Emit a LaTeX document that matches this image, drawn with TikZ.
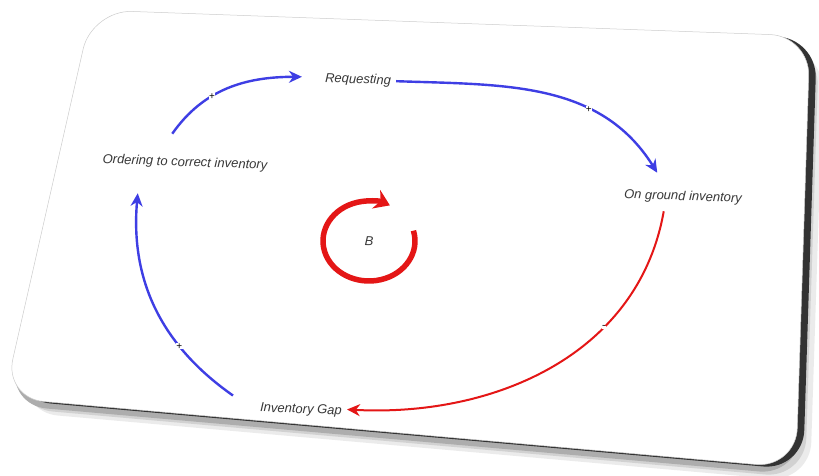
\documentclass[tikz,border=0pt]{standalone}
\usepackage{fontspec}
\setmainfont{Liberation Sans}
\usetikzlibrary{arrows.meta}

\definecolor{linkblue}{RGB}{62,62,228}
\definecolor{linkred}{RGB}{228,22,22}

\newcommand{\cardoutline}{(92,10) -- (810,36) -- (796,468) -- (4,398) -- cycle}

\tikzset{
  var/.style={font=\fontsize{13}{15}\selectfont\itshape, text=black!78, rotate=-2, inner sep=1pt},
  poslink/.style={draw=linkblue, line width=2.4pt, -{Stealth[length=13pt,width=12pt]}},
  neglink/.style={draw=linkred, line width=2pt, -{Stealth[length=13pt,width=12pt]}},
  sign/.style={font=\fontsize{10}{10}\selectfont, text=black, fill=white, inner sep=0.2pt},
}

\begin{document}
\begin{tikzpicture}[x=1pt,y=-1pt]
\useasboundingbox (0,0) rectangle (819,476);

% card with its shadow
\fill[black!8, shift={(14,14)}, rounded corners=40pt] \cardoutline;
\fill[black!18, shift={(9,10)}, rounded corners=40pt] \cardoutline;
\fill[black!32, shift={(3,7)}, rounded corners=40pt] \cardoutline;
\fill[black!80, shift={(7,2)}, rounded corners=40pt] \cardoutline;
\fill[white, draw=black!20, line width=0.5pt, rounded corners=40pt] \cardoutline;

% variables
\node[var] (req) at (358,80) {Requesting};
\node[var] (ground) at (683,197) {On ground inventory};
\node[var] (gap) at (301,410) {Inventory Gap};
\node[var] (order) at (185,163) {Ordering to correct inventory};
\node[var] (b) at (369,241) {B};

% links
\draw[poslink] ([xshift=-13pt,yshift=22pt]order.north) to[out=55,in=180]
  node[sign, pos=0.37] {+} ([xshift=-22pt,yshift=2pt]req.west);
\draw[poslink] ([xshift=4pt]req.east) to[out=-2,in=122]
  node[sign, pos=0.67] {+} ([xshift=-26pt,yshift=17pt]ground.north);
\draw[neglink] ([xshift=-19pt,yshift=-7pt]ground.south) to[out=-100,in=-3]
  node[sign, pos=0.33] {-} ([xshift=4pt,yshift=2pt]gap.east);
\draw[poslink] ([xshift=-26pt,yshift=13pt]gap.west) to[out=145,in=265]
  node[sign, pos=0.3] {+} ([xshift=-47pt,yshift=-23pt]order.south);

% loop marker
\draw[linkred, line width=5.5pt, -{Stealth[length=15pt,width=20pt]}]
  ([shift={(15:46pt and 40pt)}]b.center) arc[start angle=15, end angle=-297, x radius=46pt, y radius=40pt];
\end{tikzpicture}
\end{document}
